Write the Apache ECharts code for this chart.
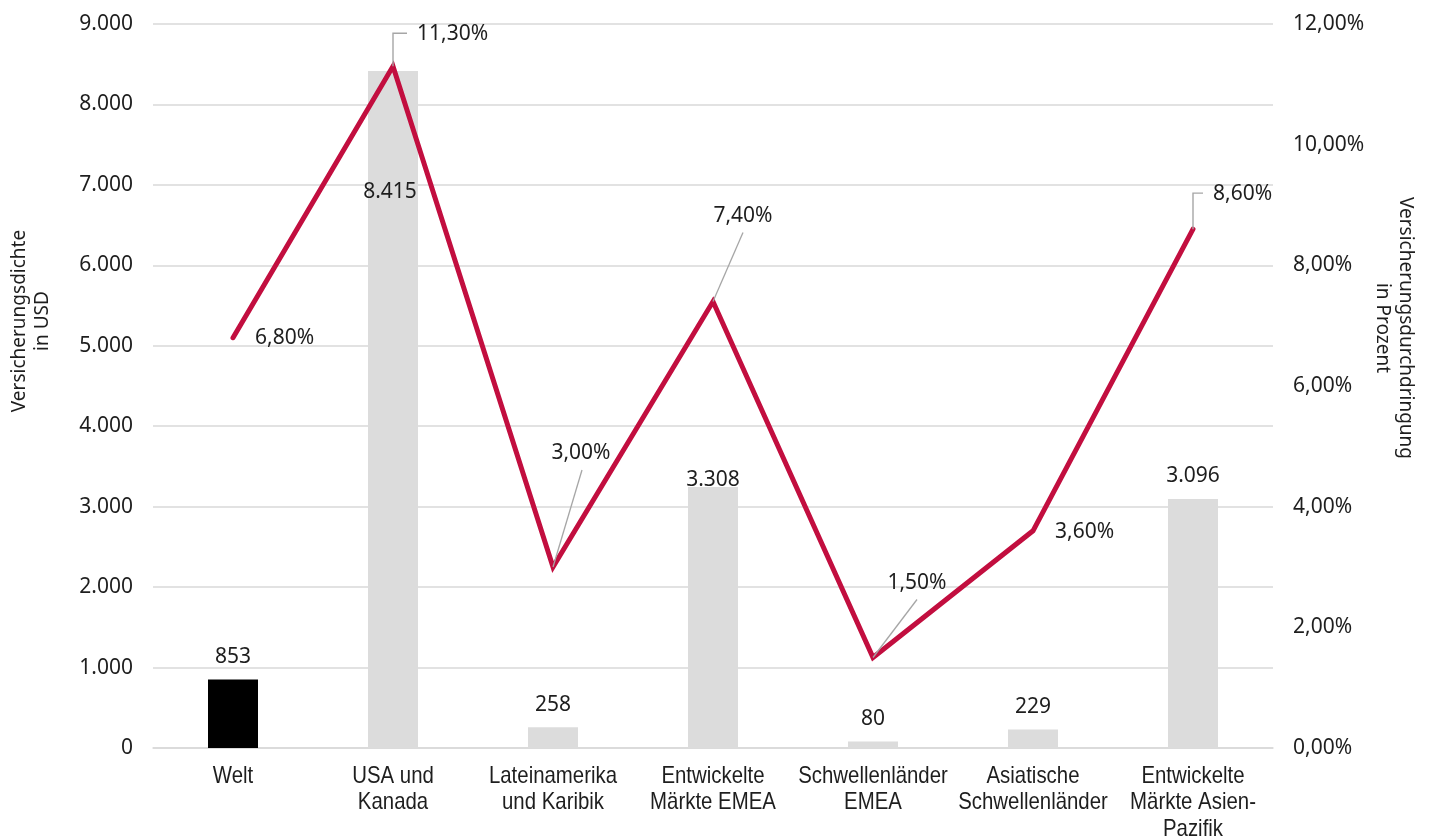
<!DOCTYPE html>
<html>
<head>
<meta charset="utf-8">
<title>Versicherungsdichte und -durchdringung</title>
<script src="https://cdn.jsdelivr.net/npm/echarts@6/dist/echarts.min.js"></script>
<style>
  html, body { margin: 0; padding: 0; background: #ffffff; }
  #chart { width: 1429px; height: 836px; }
</style>
</head>
<body>
<div id="chart"></div>
<script>
// Regions shown on the category axis
const categories = [
  'Welt',
  'USA und\nKanada',
  'Lateinamerika\nund Karibik',
  'Entwickelte\nMärkte EMEA',
  'Schwellenländer\nEMEA',
  'Asiatische\nSchwellenländer',
  'Entwickelte\nMärkte Asien-\nPazifik'
];

// Versicherungsdichte (USD per capita), bars, left axis
const densityUSD = [853, 8415, 258, 3308, 80, 229, 3096];

// Versicherungsdurchdringung (percent), line, right axis
const penetrationPct = [6.8, 11.3, 3.0, 7.4, 1.5, 3.6, 8.6];

// Axis ranges
const densityAxis = { min: 0, max: 9000, interval: 1000 };
const pctAxis = { min: 0, max: 12, interval: 2 };

// Where each percent label sits relative to its point (px), with optional leader line
const pctLabelLayout = [
  { dx: 22, dy: 0, align: 'left' },
  { dx: 24, dy: -32, align: 'left', leader: 'elbow' },
  { dx: 28, dy: -114, align: 'center', leader: [29, -97] },
  { dx: 30, dy: -86, align: 'center', leader: [30, -69] },
  { dx: 44, dy: -74, align: 'center', leader: [44, -58] },
  { dx: 22, dy: 1, align: 'left' },
  { dx: 20, dy: -35, align: 'left', leader: 'elbow' }
];

const FONT = '"Noto Sans", "Open Sans", sans-serif';
const CAT_FONT = '24px "Liberation Sans", Arial, sans-serif';
const CAT_SQUEEZE = 0.85; // narrow look for the category captions
const TEXT = '#1e1e1e';
const GRID = '#d9d9d9';
const RED = '#c20e3f';

function thousands(n) {
  return String(Math.round(n)).replace(/\B(?=(\d{3})+(?!\d))/g, '.');
}
function pct(v) {
  return v.toFixed(2).replace('.', ',') + '%';
}

// Bars: Welt in black, regions in light grey; two labels need a custom spot
const barData = densityUSD.map(function (v, i) {
  const item = { value: v, itemStyle: { color: i === 0 ? '#000000' : '#dcdcdc' } };
  if (i === 1) {
    item.label = { offset: [-3, 143] };
  } else if (i === 3) {
    item.label = { offset: [0, 17], lineHeight: 14, backgroundColor: '#ffffff', padding: [0, 2] };
  }
  return item;
});

const chart = echarts.init(document.getElementById('chart'), null, { renderer: 'canvas' });

chart.setOption({
  animation: false,
  backgroundColor: '#ffffff',
  grid: { left: 153, right: 156, top: 24, bottom: 88, containLabel: false, outerBoundsMode: 'none' },
  xAxis: {
    type: 'category',
    data: categories,
    boundaryGap: true,
    axisTick: { show: false },
    axisLine: { lineStyle: { color: GRID, width: 1.5 } },
    axisLabel: { show: false }
  },
  yAxis: [
    {
      type: 'value',
      min: densityAxis.min,
      max: densityAxis.max,
      interval: densityAxis.interval,
      axisLine: { show: false },
      axisTick: { show: false },
      splitLine: { lineStyle: { color: GRID, width: 1.5 } },
      axisLabel: {
        margin: 20,
        color: TEXT,
        fontFamily: FONT,
        fontSize: 21,
        formatter: function (v) { return thousands(v); }
      }
    },
    {
      type: 'value',
      min: pctAxis.min,
      max: pctAxis.max,
      interval: pctAxis.interval,
      position: 'right',
      axisLine: { show: false },
      axisTick: { show: false },
      splitLine: { show: false },
      axisLabel: {
        margin: 20,
        color: TEXT,
        fontFamily: FONT,
        fontSize: 21,
        formatter: function (v) { return pct(v); }
      }
    }
  ],
  graphic: [
    {
      type: 'text',
      x: 31, y: 321,
      rotation: Math.PI / 2,
      style: {
        text: 'Versicherungsdichte\nin USD',
        fill: TEXT,
        font: '19px ' + FONT,
        lineHeight: 23,
        align: 'center',
        verticalAlign: 'middle'
      }
    },
    {
      type: 'text',
      x: 1394, y: 328,
      rotation: -Math.PI / 2,
      style: {
        text: 'Versicherungsdurchdringung\nin Prozent',
        fill: TEXT,
        font: '19px ' + FONT,
        lineHeight: 23,
        align: 'center',
        verticalAlign: 'middle'
      }
    }
  ],
  series: [
    {
      name: 'Versicherungsdichte',
      type: 'bar',
      yAxisIndex: 0,
      barWidth: 50,
      data: barData,
      z: 2,
      label: {
        show: true,
        position: 'top',
        distance: 12,
        color: TEXT,
        fontFamily: FONT,
        fontSize: 21,
        formatter: function (p) { return thousands(p.value); }
      }
    },
    {
      name: 'Versicherungsdurchdringung',
      type: 'line',
      yAxisIndex: 1,
      data: penetrationPct,
      symbol: 'none',
      z: 3,
      lineStyle: { color: RED, width: 5, cap: 'round', join: 'miter' }
    },
    {
      // percent labels with their leader lines
      name: 'Durchdringung Labels',
      type: 'custom',
      yAxisIndex: 1,
      z: 4,
      silent: true,
      data: penetrationPct.map(function (v, i) { return [i, v]; }),
      renderItem: function (params, api) {
        const i = api.value(0);
        const v = api.value(1);
        const p = api.coord([i, v]);
        const lay = pctLabelLayout[i];
        const children = [];
        if (lay.leader === 'elbow') {
          children.push({
            type: 'polyline',
            shape: { points: [[p[0], p[1]], [p[0], p[1] + lay.dy - 1], [p[0] + lay.dx - 10, p[1] + lay.dy - 1]] },
            style: { stroke: '#a6a6a6', lineWidth: 1.4, fill: null }
          });
        } else if (lay.leader) {
          children.push({
            type: 'line',
            shape: { x1: p[0], y1: p[1], x2: p[0] + lay.leader[0], y2: p[1] + lay.leader[1] },
            style: { stroke: '#a6a6a6', lineWidth: 1.3 }
          });
        }
        children.push({
          type: 'text',
          style: {
            text: pct(v),
            x: p[0] + lay.dx,
            y: p[1] + lay.dy,
            fill: TEXT,
            font: '21px ' + FONT,
            align: lay.align,
            verticalAlign: 'middle'
          }
        });
        return { type: 'group', children: children };
      }
    },
    {
      // category captions below the axis, horizontally condensed
      name: 'Regionen',
      type: 'custom',
      yAxisIndex: 0,
      z: 4,
      silent: true,
      data: categories.map(function (c, i) { return [i, 0]; }),
      renderItem: function (params, api) {
        const i = api.value(0);
        const p = api.coord([i, 0]);
        return {
          type: 'text',
          x: p[0],
          y: p[1] + 15,
          scaleX: CAT_SQUEEZE,
          scaleY: 1,
          style: {
            text: categories[i],
            x: 0,
            y: 0,
            fill: TEXT,
            font: CAT_FONT,
            lineHeight: 26.5,
            align: 'center',
            verticalAlign: 'top'
          }
        };
      }
    }
  ]
});
</script>
</body>
</html>
